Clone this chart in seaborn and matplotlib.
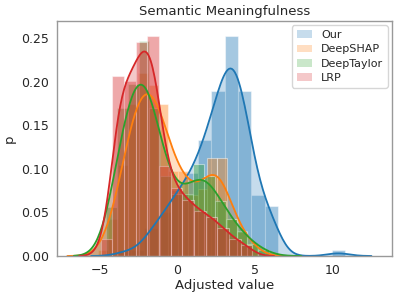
import numpy as np
import matplotlib
matplotlib.use("Agg")
import matplotlib.pyplot as plt
import seaborn as sns

methods = ["Our", "DeepSHAP", "DeepTaylor", "LRP"]
colors = ["#1f77b4", "#ff7f0e", "#2ca02c", "#d62728"]

# histogram bins (first edge, bin width) and counts per bin
our_start, our_width = -3.85, 0.86
our_counts = [1, 1, 5, 8, 12, 15, 21, 30, 40, 30, 11, 9, 0, 0, 0, 0, 1]

shap_start, shap_width = -5.11, 0.64
shap_counts = [1, 6, 15, 25, 30, 28, 25, 14, 14, 10, 11, 16, 16, 6, 4, 2]

taylor_start, taylor_width = -4.60, 0.70
taylor_counts = [8, 24, 28, 35, 24, 13, 10, 10, 15, 13, 9, 6, 4, 2, 1]

lrp_start, lrp_width = -4.93, 0.75
lrp_counts = [6, 64, 62, 76, 78, 32, 24, 20, 16, 14, 10, 6, 4]


def expand(start, width, counts):
    edges = start + width * np.arange(len(counts) + 1)
    centers = (edges[:-1] + edges[1:]) / 2
    return np.repeat(centers, counts), edges


def main():
    sns.set_style("white")
    plt.rcParams["axes.edgecolor"] = "#999999"
    plt.rcParams["axes.linewidth"] = 1.0

    fig, ax = plt.subplots(figsize=(3.99, 2.96), dpi=100)
    fig.subplots_adjust(left=57 / 399, right=392 / 399, top=1 - 21 / 296, bottom=1 - 256 / 296)

    series = [
        (our_start, our_width, our_counts),
        (shap_start, shap_width, shap_counts),
        (taylor_start, taylor_width, taylor_counts),
        (lrp_start, lrp_width, lrp_counts),
    ]
    for name, color, (start, width, counts) in zip(methods, colors, series):
        values, edges = expand(start, width, counts)
        sns.histplot(x=values, bins=edges, stat="density", color=color, alpha=0.4,
                     edgecolor=(1, 1, 1, 0.45), linewidth=0.8, ax=ax)
        sns.kdeplot(x=values, fill=True, alpha=0.25, linewidth=0, color=color,
                    label=name, ax=ax)
        sns.kdeplot(x=values, color=color, linewidth=1.3, ax=ax)

    ax.set_xlim(-7.75, 13.8)
    ax.set_ylim(0, 0.27)
    ax.set_xticks([-5, 0, 5, 10])
    ax.set_yticks([0, 0.05, 0.1, 0.15, 0.2, 0.25])
    ax.set_yticklabels(["0.00", "0.05", "0.10", "0.15", "0.20", "0.25"])
    ax.tick_params(labelsize=9, colors=".15", pad=2)
    ax.set_title("Semantic Meaningfulness", fontsize=9.5, color=".15", pad=4)
    ax.set_xlabel("Adjusted value", fontsize=9.5, color=".15", labelpad=2)
    ax.set_ylabel("p", fontsize=9.5, color=".15", labelpad=4)
    ax.legend(loc="upper right", fontsize=8, frameon=True, handlelength=1.4,
              labelspacing=0.4, borderaxespad=0.4)

    fig.savefig("out.png", dpi=100)


if __name__ == "__main__":
    main()
